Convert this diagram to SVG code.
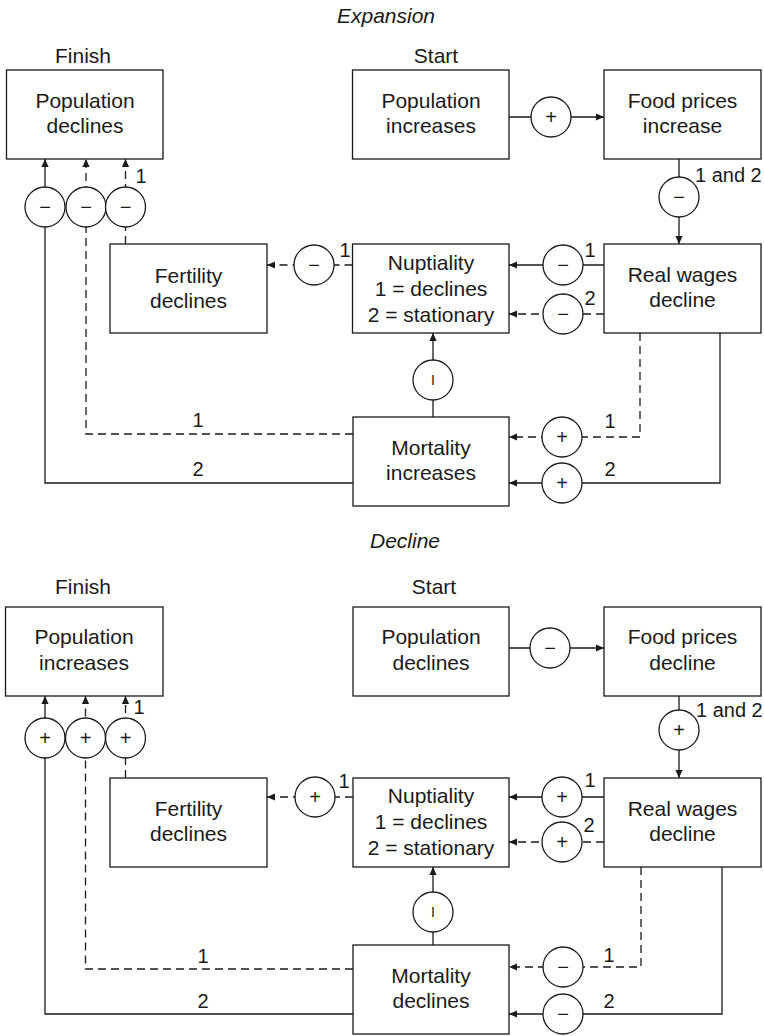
<svg xmlns="http://www.w3.org/2000/svg" width="764" height="1036" viewBox="0 0 764 1036">
<style>
.box{fill:#fff;stroke:#1a1a1a;stroke-width:1.3}
.t{font-family:"Liberation Sans",Arial,sans-serif;font-size:21px;fill:#1a1a1a;text-anchor:middle}
.ti{font-family:"Liberation Sans",Arial,sans-serif;font-size:21px;font-style:italic;fill:#1a1a1a;text-anchor:middle}
.lb{font-family:"Liberation Sans",Arial,sans-serif;font-size:20px;fill:#1a1a1a;text-anchor:middle}
.lbs{font-family:"Liberation Sans",Arial,sans-serif;font-size:20px;fill:#1a1a1a;text-anchor:start}
.sg{font-family:"Liberation Sans",Arial,sans-serif;font-size:20px;fill:#1a1a1a;text-anchor:middle}
.sgi{font-family:"Liberation Sans",Arial,sans-serif;font-size:14px;fill:#1a1a1a;text-anchor:middle}
.ln{fill:none;stroke:#1a1a1a;stroke-width:1.3;marker-end:url(#ah)}
.ln0{fill:none;stroke:#1a1a1a;stroke-width:1.3}
.d{stroke-dasharray:8 5}
.c{fill:#fff;stroke:#1a1a1a;stroke-width:1.3}
</style>
<defs>
<marker id="ah" viewBox="0 0 10 10" refX="10" refY="5" markerWidth="8" markerHeight="8" markerUnits="userSpaceOnUse" orient="auto">
<path d="M0,0.5 L10,5 L0,9.5 z" fill="#1a1a1a" stroke="none"/>
</marker>
</defs>
<rect width="764" height="1036" fill="#fff"/>

<!-- Titles -->
<g id="titles">
<text class="ti" x="386" y="23">Expansion</text>
<text class="t" x="83" y="63">Finish</text>
<text class="t" x="436" y="63">Start</text>
<text class="ti" x="405" y="548">Decline</text>
<text class="t" x="83" y="594">Finish</text>
<text class="t" x="434" y="594">Start</text>
</g>

<!-- Connectors -->
<g id="connectors">
<!-- upper -->
<path class="ln" d="M509,117 H604"/>
<path class="ln" d="M679,159 V244"/>
<path class="ln" d="M604,265 H509"/>
<path class="ln d" d="M604,314 H509"/>
<path class="ln d" d="M352.5,265 H267"/>
<path class="ln" d="M433,417 V333"/>
<path class="ln d" d="M640,333 V437 H509"/>
<path class="ln" d="M720,333 V483 H509"/>
<path class="ln d" d="M353,434 H86 V159"/>
<path class="ln" d="M353,483 H45 V159"/>
<path class="ln d" d="M125.5,244 V159"/>
<!-- lower -->
<path class="ln" d="M509,648 H604"/>
<path class="ln" d="M679,696 V778"/>
<path class="ln" d="M604,797 H509"/>
<path class="ln d" d="M604,842 H509"/>
<path class="ln d" d="M353,797 H267"/>
<path class="ln" d="M433,945 V867"/>
<path class="ln d" d="M641,867 V967 H509"/>
<path class="ln" d="M722,867 V1014 H509"/>
<path class="ln d" d="M353,969 H85.5 V696"/>
<path class="ln" d="M353,1014 H45 V696"/>
<path class="ln d" d="M125.5,778 V696"/>
</g>

<!-- Sign circles -->
<g id="signs">
<circle class="c" cx="551" cy="117" r="20"/><text class="sg" x="551" y="124">+</text>
<circle class="c" cx="679" cy="197" r="20"/><text class="sg" x="679" y="204">−</text>
<circle class="c" cx="563" cy="265" r="20"/><text class="sg" x="563" y="272">−</text>
<circle class="c" cx="563" cy="314" r="20"/><text class="sg" x="563" y="321">−</text>
<circle class="c" cx="314" cy="265" r="20"/><text class="sg" x="314" y="272">−</text>
<circle class="c" cx="433" cy="380" r="20"/><text class="sgi" x="433" y="385">I</text>
<circle class="c" cx="562" cy="437" r="20"/><text class="sg" x="562" y="444">+</text>
<circle class="c" cx="562" cy="483" r="20"/><text class="sg" x="562" y="490">+</text>
<circle class="c" cx="45" cy="207" r="20"/><text class="sg" x="45" y="214">−</text>
<circle class="c" cx="86" cy="207" r="20"/><text class="sg" x="86" y="214">−</text>
<circle class="c" cx="125.5" cy="207" r="20"/><text class="sg" x="125.5" y="214">−</text>

<circle class="c" cx="550" cy="648" r="20"/><text class="sg" x="550" y="655">−</text>
<circle class="c" cx="679" cy="730" r="20"/><text class="sg" x="679" y="737">+</text>
<circle class="c" cx="562" cy="797" r="20"/><text class="sg" x="562" y="804">+</text>
<circle class="c" cx="562" cy="842" r="20"/><text class="sg" x="562" y="849">+</text>
<circle class="c" cx="315" cy="797" r="20"/><text class="sg" x="315" y="804">+</text>
<circle class="c" cx="433" cy="912" r="20"/><text class="sgi" x="433" y="917">I</text>
<circle class="c" cx="563" cy="967" r="20"/><text class="sg" x="563" y="974">−</text>
<circle class="c" cx="563" cy="1014" r="20"/><text class="sg" x="563" y="1021">−</text>
<circle class="c" cx="45" cy="738" r="20"/><text class="sg" x="45" y="745">+</text>
<circle class="c" cx="85.5" cy="738" r="20"/><text class="sg" x="85.5" y="745">+</text>
<circle class="c" cx="125.5" cy="738" r="20"/><text class="sg" x="125.5" y="745">+</text>
</g>

<!-- Connector labels -->
<g id="labels">
<text class="lb" x="141" y="183">1</text>
<text class="lb" x="345" y="257">1</text>
<text class="lb" x="590" y="257">1</text>
<text class="lb" x="590" y="305">2</text>
<text class="lbs" x="695" y="182">1 and 2</text>
<text class="lb" x="198" y="427">1</text>
<text class="lb" x="198" y="476">2</text>
<text class="lb" x="610" y="428">1</text>
<text class="lb" x="610" y="476">2</text>

<text class="lb" x="139" y="714">1</text>
<text class="lb" x="344" y="788">1</text>
<text class="lb" x="590" y="787">1</text>
<text class="lb" x="589" y="832">2</text>
<text class="lbs" x="696" y="717">1 and 2</text>
<text class="lb" x="203" y="963">1</text>
<text class="lb" x="203" y="1008">2</text>
<text class="lb" x="609" y="962">1</text>
<text class="lb" x="609" y="1008">2</text>
</g>

<!-- Upper nodes -->
<g id="pop-declines-finish">
<rect class="box" x="6.5" y="70" width="156.5" height="89"/>
<text class="t" x="85" y="108">Population</text>
<text class="t" x="85" y="133">declines</text>
</g>
<g id="pop-increases-start">
<rect class="box" x="352.5" y="70" width="156.5" height="89"/>
<text class="t" x="431" y="108">Population</text>
<text class="t" x="431" y="133">increases</text>
</g>
<g id="food-increase">
<rect class="box" x="604" y="70" width="157" height="89"/>
<text class="t" x="682.5" y="108">Food prices</text>
<text class="t" x="682.5" y="133">increase</text>
</g>
<g id="fertility-declines-u">
<rect class="box" x="110" y="244" width="157" height="89"/>
<text class="t" x="188.5" y="283">Fertility</text>
<text class="t" x="188.5" y="308">declines</text>
</g>
<g id="nuptiality-u">
<rect class="box" x="352.5" y="244" width="156.5" height="89"/>
<text class="t" x="431" y="270">Nuptiality</text>
<text class="t" x="431" y="296">1 = declines</text>
<text class="t" x="431" y="322">2 = stationary</text>
</g>
<g id="wages-u">
<rect class="box" x="604" y="244" width="157" height="89"/>
<text class="t" x="682.5" y="282">Real wages</text>
<text class="t" x="682.5" y="307">decline</text>
</g>
<g id="mortality-increases">
<rect class="box" x="353" y="417" width="156" height="89"/>
<text class="t" x="431" y="455">Mortality</text>
<text class="t" x="431" y="480">increases</text>
</g>

<!-- Lower nodes -->
<g id="pop-increases-finish">
<rect class="box" x="5.5" y="607" width="157.5" height="89"/>
<text class="t" x="84" y="644">Population</text>
<text class="t" x="84" y="670">increases</text>
</g>
<g id="pop-declines-start">
<rect class="box" x="353" y="607" width="156" height="89"/>
<text class="t" x="431" y="644">Population</text>
<text class="t" x="431" y="670">declines</text>
</g>
<g id="food-decline">
<rect class="box" x="604" y="607" width="157" height="89"/>
<text class="t" x="682.5" y="644">Food prices</text>
<text class="t" x="682.5" y="670">decline</text>
</g>
<g id="fertility-declines-l">
<rect class="box" x="110" y="778" width="157" height="89"/>
<text class="t" x="188.5" y="816">Fertility</text>
<text class="t" x="188.5" y="841">declines</text>
</g>
<g id="nuptiality-l">
<rect class="box" x="353" y="778" width="156" height="89"/>
<text class="t" x="431" y="803">Nuptiality</text>
<text class="t" x="431" y="829">1 = declines</text>
<text class="t" x="431" y="855">2 = stationary</text>
</g>
<g id="wages-l">
<rect class="box" x="604" y="778" width="157" height="89"/>
<text class="t" x="682.5" y="816">Real wages</text>
<text class="t" x="682.5" y="841">decline</text>
</g>
<g id="mortality-declines">
<rect class="box" x="353" y="945" width="156" height="89"/>
<text class="t" x="431" y="983">Mortality</text>
<text class="t" x="431" y="1008">declines</text>
</g>
</svg>
